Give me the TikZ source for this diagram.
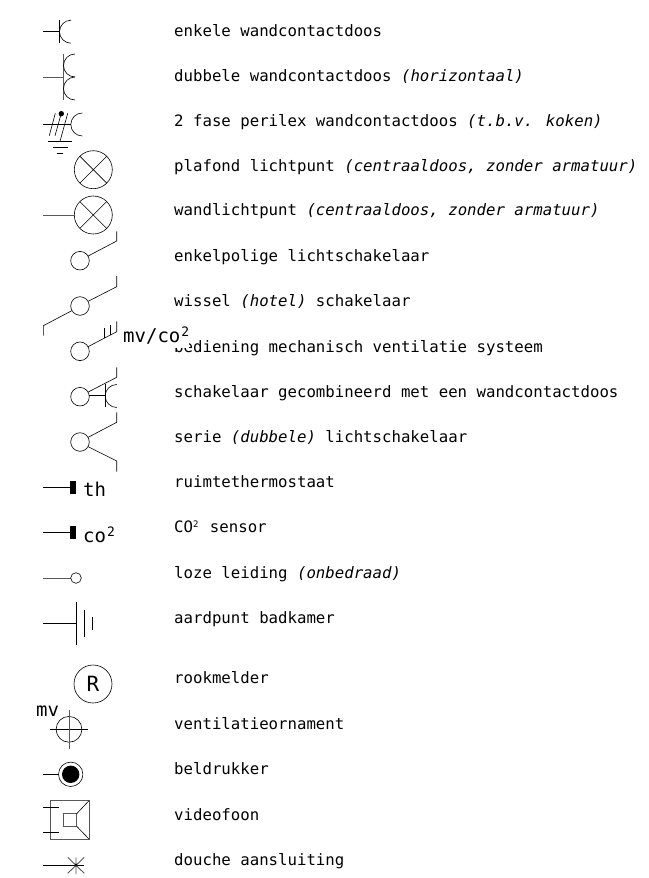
\documentclass[tikz,border=0pt]{standalone}
\usepackage{fontspec}
\newfontfamily\labfont{DejaVu Sans Mono}
\newfontfamily\descfont{DejaVu Sans Mono}
\tikzset{
 ln/.style={line width=0.6pt,black},
 gln/.style={line width=0.9pt,black!65},
 lbl/.style={anchor=base west,inner sep=0pt,font=\descfont\fontsize{15.7}{18}\selectfont},
 sym/.style={anchor=base west,inner sep=0pt,font=\labfont\fontsize{19}{22}\selectfont},
 symhide/.style={sym,fill=white,text depth=5pt}
}
\newcommand{\suprs}{\raisebox{5pt}{\fontsize{9}{10}\selectfont 2}\hspace{2pt}}
\newcommand{\supr}{\hspace{1pt}\raisebox{6pt}{\fontsize{13}{14}\selectfont 2}\hspace{1pt}}
\begin{document}
\begin{tikzpicture}[x=1pt,y=-1pt]
\useasboundingbox (0,0) rectangle (648,878);
% descriptions
\node[lbl] (t1) at (174,36) {enkele wandcontactdoos};
\node[lbl] (t2) at (174,81) {dubbele wandcontactdoos \textit{(horizontaal)}};
\node[lbl] (t3) at (174,126) {2 fase perilex wandcontactdoos \textit{(t.b.v. koken)}};
\node[lbl] (t4) at (174,171) {plafond lichtpunt \textit{(centraaldoos, zonder armatuur)}};
\node[lbl] (t5) at (174,215) {wandlichtpunt \textit{(centraaldoos, zonder armatuur)}};
\node[lbl] (t6) at (174,261) {enkelpolige lichtschakelaar};
\node[lbl] (t7) at (174,306) {wissel \textit{(hotel)} schakelaar};
\node[lbl] (t8) at (174,352) {bediening mechanisch ventilatie systeem};
\node[lbl] (t9) at (174,397) {schakelaar gecombineerd met een wandcontactdoos};
\node[lbl] (t10) at (174,442) {serie \textit{(dubbele)} lichtschakelaar};
\node[lbl] (t11) at (174,487) {ruimtethermostaat};
\node[lbl] (t12) at (174,532) {CO\suprs{} sensor};
\node[lbl] (t13) at (174,578) {loze leiding \textit{(onbedraad)}};
\node[lbl] (t14) at (174,623) {aardpunt badkamer};
\node[lbl] (t15) at (174,683) {rookmelder};
\node[lbl] (t16) at (174,729) {ventilatieornament};
\node[lbl] (t17) at (174,774) {beldrukker};
\node[lbl] (t18) at (174,820) {videofoon};
\node[lbl] (t19) at (174,865) {douche aansluiting};
% 1 enkele wcd
\draw[ln] (43.3,31.5) -- (59.5,31.5) (59.5,20) -- (59.5,43.3);
\draw[ln] (71,20.2) arc[start angle=-90,end angle=-270,radius=11.5];
% 2 dubbele
\draw[gln] (43.3,77) -- (63.5,77) (63.5,54) -- (63.5,99.5);
\draw[ln] (75,54) arc[start angle=-90,end angle=-270,radius=11.5];
\draw[ln] (75,77) arc[start angle=-90,end angle=-270,radius=11.5];
% 3 perilex
\draw[ln] (43.3,124.5) -- (70.5,124.5);
\draw[ln] (82.3,113) arc[start angle=-90,end angle=-270,radius=11.5];
\draw[ln] (49.3,135.7) -- (55.3,113.3) (55,135.7) -- (61.3,113.3) (60,141.3) -- (67.7,113.3);
\fill (61.3,113.7) circle[radius=2.7];
\draw[ln] (48.3,141.3) -- (71.7,141.3) (53.3,147) -- (67.7,147) (57.3,153) -- (63,153);
% 4 plafond
\draw[ln] (93.3,169.7) circle[radius=19];
\draw[ln] (79.9,156.3) -- (106.7,183.1) (79.9,183.1) -- (106.7,156.3);
% 5 wand
\draw[ln] (93.3,215) circle[radius=19];
\draw[ln] (79.9,201.6) -- (106.7,228.4) (79.9,228.4) -- (106.7,201.6);
\draw[gln] (43.3,215) -- (74.3,215);
% 6 enkelpolig
\draw[ln] (80,260.7) circle[radius=9.3];
\draw[ln] (88.2,256) -- (116.7,241) -- (116.7,231.3);
% 7 wissel
\draw[ln] (80,306) circle[radius=9.3];
\draw[ln] (88.2,301.3) -- (116.7,286.7) -- (116.7,276);
\draw[ln] (71.8,310.7) -- (43.3,325.7) -- (43.3,335.7);
% 8 mv
\draw[ln] (80,351.3) circle[radius=9.3];
\draw[ln] (88.2,346.6) -- (116.7,331.7) -- (116.7,321.3);
\draw[ln] (104.3,338) -- (104.3,327.5) (110.5,335) -- (110.5,324.5);
\node[symhide] (mvco) at (123,342.7) {mv/co\supr};
% 9 combi
\draw[ln] (80,396.7) circle[radius=9.3];
\draw[ln] (88.2,392) -- (116.7,377.3) -- (116.7,367.3);
\draw[ln] (89.3,395.7) -- (105.3,395.7) (105.3,384.3) -- (105.3,407.3);
\draw[ln] (116.7,384.5) arc[start angle=-90,end angle=-270,radius=11.5];
% 10 serie
\draw[ln] (80,442) circle[radius=9.3];
\draw[ln] (88.2,437.3) -- (116.7,422.3) -- (116.7,412.3);
\draw[ln] (88.2,446.7) -- (116.7,461) -- (116.7,471.7);
% 11 th
\draw[ln] (43.3,487.3) -- (70.3,487.3);
\fill (70.3,481) rectangle (75.7,494);
\node[sym] (th) at (83,496.7) {th};
% 12 co2
\draw[ln] (43.3,532.3) -- (70.3,532.3);
\fill (70.3,525.7) rectangle (75.7,539);
\node[sym] (co) at (83,542.3) {co\supr};
% 13 loze
\draw[gln] (43.3,578) -- (70.7,578);
\draw[ln] (76,578) circle[radius=5.3];
% 14 aard
\draw[ln] (43.3,623.3) -- (76.7,623.3) (76.7,602) -- (76.7,644.7) (84.3,610) -- (84.3,636.7) (92.7,617) -- (92.7,630);
% 15 rook
\node[draw,ln,circle,minimum size=38pt,inner sep=0pt,font=\labfont\fontsize{21}{24}\selectfont] (R) at (93,684) {R};
% 16 vent
\node[sym] (mv) at (36,716.7) {mv};
\draw[ln] (69,729.3) circle[radius=12.9];
\draw[ln] (50,729.3) -- (88.3,729.3);
\draw[gln] (69,710) -- (69,748.7);
% 17 bel
\draw[ln] (43.3,774.3) -- (58.5,774.3);
\draw[ln] (70.7,774.3) circle[radius=12.2];
\fill (70.7,774.3) circle[radius=8.7];
% 18 videofoon
\draw[gln] (50.7,800.7) rectangle (89,839) (63.7,813.7) rectangle (76.7,826.3);
\draw[ln] (76.7,813.7) -- (89,800.7) (76.7,826.3) -- (89,839);
\draw[ln] (43.3,807.3) -- (58.7,807.3) (43.3,832.3) -- (58.7,832.3);
% 19 douche
\draw[ln] (43.3,865) -- (84.3,865);
\draw[gln] (76,857.3) -- (76,874) (67.7,857.3) -- (84.3,873.3) (84.3,857.3) -- (67.7,873.3);
\fill (76,865) circle[radius=1.4];
\end{tikzpicture}
\end{document}
